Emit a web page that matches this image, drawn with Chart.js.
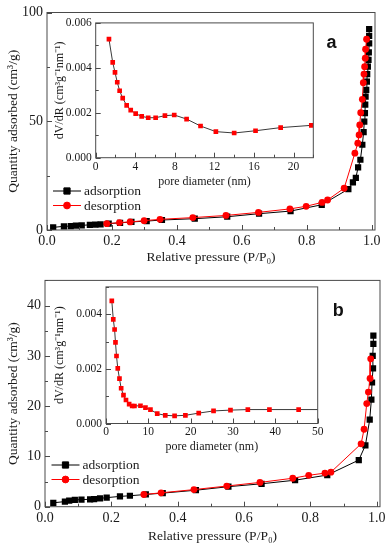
<!DOCTYPE html>
<html>
<head>
<meta charset="utf-8">
<script src="https://cdn.jsdelivr.net/npm/chart.js@4.4.0/dist/chart.umd.min.js"></script>
<style>
  body { margin: 0; background: #fff; width: 391px; height: 550px; position: relative; overflow: hidden; }
  canvas { position: absolute; }
</style>
</head>
<body>
<canvas id="mainA" width="391" height="268" style="left:0;top:0;width:391px;height:268px"></canvas>
<canvas id="mainB" width="391" height="282" style="left:0;top:268px;width:391px;height:282px"></canvas>
<canvas id="insetA" width="285" height="185" style="left:40px;top:12px;width:285px;height:185px"></canvas>
<canvas id="insetB" width="285" height="185" style="left:45px;top:276px;width:285px;height:185px"></canvas>
<script>
// panel a - isotherm
const adsA_p = [0.019,0.052,0.073,0.089,0.107,0.132,0.149,0.165,0.19,0.225,0.26,0.307,0.354,0.455,0.555,0.653,0.75,0.846,0.928,0.942,0.951,0.958,0.965,0.971,0.975,0.977,0.979,0.98,0.981,0.983,0.985,0.986,0.988,0.99,0.991,0.992,0.992,0.992];
const adsA_q = [1.2,1.7,1.8,2.0,2.1,2.4,2.5,2.6,2.9,3.3,3.7,4.1,4.6,5.2,6.1,7.5,8.7,11.6,18.8,21.9,24.0,28.8,32.3,39.2,45.0,49.8,53.7,57.6,61.3,64.4,68.2,71.7,75.1,78.2,81.7,85.8,89.2,92.4];
const desA_p = [0.984,0.981,0.98,0.978,0.976,0.974,0.971,0.966,0.963,0.961,0.957,0.948,0.915,0.864,0.847,0.798,0.748,0.651,0.551,0.449,0.348,0.299,0.256,0.223,0.184];
const desA_q = [87.7,83.1,79.0,75.1,71.7,67.7,60.1,53.9,48.3,43.7,39.9,35.3,19.2,13.8,12.7,10.9,9.7,8.1,6.7,5.7,4.9,4.3,3.7,3.4,2.9];
// panel a - pore size distribution
const poreA_d = [1.34,1.72,1.95,2.18,2.42,2.73,3.13,3.54,4.04,4.65,5.31,6.06,7.0,7.94,9.19,10.6,12.15,14.0,16.16,18.7,21.8];
const poreA_v = [0.00528,0.00424,0.0038,0.00336,0.00298,0.00265,0.00233,0.00212,0.00196,0.00184,0.00178,0.00178,0.00187,0.0019,0.00172,0.00141,0.00116,0.0011,0.0012,0.00134,0.00144];

// panel b - isotherm
const adsB_p = [0.025,0.06,0.073,0.09,0.11,0.136,0.148,0.166,0.186,0.226,0.256,0.304,0.355,0.455,0.553,0.653,0.754,0.851,0.946,0.966,0.979,0.984,0.986,0.989,0.988,0.99,0.99];
const adsB_q = [0.77,1.02,1.22,1.35,1.41,1.47,1.5,1.66,1.8,2.05,2.18,2.43,2.7,3.28,3.98,4.56,5.27,6.29,9.27,12.2,17.3,21.3,24.7,27.5,30.0,32.4,34.0];
const desB_p = [0.982,0.98,0.975,0.97,0.962,0.953,0.862,0.844,0.795,0.747,0.648,0.548,0.449,0.35,0.298];
const desB_q = [29.4,25.5,22.8,20.5,15.4,12.5,6.87,6.68,6.24,5.66,4.83,4.11,3.4,2.76,2.43];
// panel b - pore size distribution (last point only carries the line to the frame)
const poreB_d = [1.37,1.72,2.03,2.24,2.48,2.78,3.18,3.58,4.13,4.72,5.47,6.18,6.72,8.14,9.32,10.5,12.1,14.0,16.2,18.75,21.9,25.4,29.4,33.5,38.6,45.5,50.5];
const poreB_v = [0.00449,0.00381,0.00344,0.00297,0.00247,0.00202,0.00164,0.00129,0.00104,0.00086,0.00071,0.00064,0.00064,0.00065,0.00058,0.00051,0.00036,0.0003,0.00028,0.0003,0.00038,0.00046,0.00049,0.00051,0.00051,0.00051,0.00051];

const serif = "'Liberation Serif', 'Times New Roman', serif";
Chart.defaults.font.family = serif;
Chart.defaults.color = '#1a1a1a';

const pts = (xs, ys) => xs.map((x, i) => ({ x: x, y: ys[i] }));

// box around plot area + Origin-style inward ticks
const frame = {
  id: 'frame',
  afterDraw(chart, args, opts) {
    const { ctx, chartArea: a, scales } = chart;
    ctx.save();
    ctx.strokeStyle = '#4a4a4a';
    ctx.lineWidth = 1;
    ctx.strokeRect(a.left, a.top, a.right - a.left, a.bottom - a.top);
    const ticks = (scale, minor, horiz) => {
      const major = scale.ticks.map(t => t.value);
      const n = Math.round((scale.max - scale.min) / minor);
      for (let i = 0; i <= n; i++) {
        const v = scale.min + i * minor;
        const len = major.some(m => Math.abs(m - v) < minor / 10) ? 5 : 3;
        const p = Math.round(scale.getPixelForValue(v)) + 0.5;
        ctx.beginPath();
        if (horiz) { ctx.moveTo(p, a.bottom); ctx.lineTo(p, a.bottom - len); }
        else { ctx.moveTo(a.left, p); ctx.lineTo(a.left + len, p); }
        ctx.stroke();
      }
    };
    ticks(scales.x, opts.xMinor, true);
    ticks(scales.y, opts.yMinor, false);
    ctx.restore();
  }
};

// legend with line + marker, and the panel letter
const isoLegend = {
  id: 'isoLegend',
  afterDraw(chart, args, opts) {
    if (!opts.display) return;
    const { ctx, chartArea: a } = chart;
    ctx.save();
    chart.data.datasets.forEach((ds, i) => {
      const y = a.bottom - opts.bottom + i * 14.5;
      const x0 = a.left + opts.left;
      ctx.strokeStyle = ds.borderColor;
      ctx.fillStyle = ds.backgroundColor;
      ctx.lineWidth = 1;
      ctx.beginPath();
      ctx.moveTo(x0, y);
      ctx.lineTo(x0 + 28, y);
      ctx.stroke();
      Chart.helpers.drawPoint(ctx, { pointStyle: ds.pointStyle, radius: ds.pointRadius, rotation: 0, borderWidth: 1 }, x0 + 14, y);
      ctx.fillStyle = '#1a1a1a';
      ctx.font = '13.5px ' + serif;
      ctx.textBaseline = 'middle';
      ctx.fillText(ds.label, x0 + 31, y + 0.5);
    });
    ctx.font = 'bold 18px "Liberation Sans", Arial, sans-serif';
    ctx.textAlign = 'center';
    ctx.textBaseline = 'middle';
    ctx.fillStyle = '#111';
    ctx.fillText(opts.letter, a.right - opts.letterDx, a.top + opts.letterDy);
    ctx.restore();
  }
};

function isoChart(id, ads, des, cfg) {
  return new Chart(document.getElementById(id), {
    type: 'scatter',
    data: {
      datasets: [
        { label: 'adsorption', data: ads, showLine: true, borderColor: '#000', backgroundColor: '#000',
          borderWidth: 1, pointStyle: 'rect', pointRadius: 4.4, pointBorderWidth: 0, order: 1 },
        { label: 'desorption', data: des, showLine: true, borderColor: '#ff0000', backgroundColor: '#ff0000',
          borderWidth: 1, pointStyle: 'circle', pointRadius: 3.4, pointBorderWidth: 0, order: 0 }
      ]
    },
    options: {
      responsive: false, animation: false, events: [],
      layout: { padding: cfg.padding },
      plugins: {
        legend: { display: false }, tooltip: { enabled: false },
        frame: { xMinor: 0.1, yMinor: cfg.yMinor },
        isoLegend: { display: true, left: cfg.legLeft, bottom: cfg.legBottom, letter: cfg.letter, letterDx: cfg.letterDx, letterDy: 30.5 }
      },
      scales: {
        x: {
          type: 'linear', min: 0, max: 1.01,
          afterFit: s => { s.height = cfg.xHeight; },
          grid: { display: false, drawTicks: false }, border: { display: false },
          ticks: { stepSize: 0.2, includeBounds: false, padding: 3, maxRotation: 0, font: { size: 14 }, callback: v => v.toFixed(1) },
          title: { display: true, text: 'Relative pressure (P/P₀)', font: { size: 13.5 }, padding: { top: 0, bottom: cfg.xTitlePad } }
        },
        y: {
          type: 'linear', min: 0, max: cfg.yMax,
          afterFit: s => { s.width = cfg.yWidth; },
          grid: { display: false, drawTicks: false }, border: { display: false },
          ticks: { stepSize: cfg.yStep, includeBounds: false, padding: 4, font: { size: 14 } },
          title: { display: true, text: 'Quantity adsorbed (cm³/g)', font: { size: 13.5 }, padding: { top: 5.5, bottom: 0 } }
        }
      }
    },
    plugins: [frame, isoLegend]
  });
}

function poreChart(id, data, cfg) {
  return new Chart(document.getElementById(id), {
    type: 'scatter',
    data: {
      datasets: [{
        label: 'PSD', data: data, showLine: true, borderColor: '#3a3a3a', borderWidth: 1,
        pointStyle: 'rect', pointBackgroundColor: '#ff0000', pointBorderColor: '#ff0000', pointBorderWidth: 0,
        pointRadius: ctx => (ctx.raw && ctx.raw.x > cfg.xMax ? 0 : 3.3)
      }]
    },
    options: {
      responsive: false, animation: false, events: [],
      layout: { padding: cfg.padding },
      plugins: {
        legend: { display: false }, tooltip: { enabled: false },
        frame: { xMinor: cfg.xMinor, yMinor: 0.001 },
        isoLegend: { display: false }
      },
      scales: {
        x: {
          type: 'linear', min: 0, max: cfg.xMax,
          afterFit: s => { s.height = cfg.xHeight; },
          grid: { display: false, drawTicks: false }, border: { display: false },
          ticks: { stepSize: cfg.xStep, includeBounds: false, padding: 2, maxRotation: 0, font: { size: 11.5 } },
          title: { display: true, text: 'pore diameter (nm)', font: { size: 12 }, padding: { top: 0, bottom: cfg.xTitlePad } }
        },
        y: {
          type: 'linear', min: 0, max: cfg.yMax,
          afterFit: s => { s.width = cfg.yWidth; },
          grid: { display: false, drawTicks: false }, border: { display: false },
          ticks: { stepSize: 0.002, includeBounds: false, padding: 4, font: { size: 11.5 }, callback: v => v.toFixed(3) },
          title: { display: true, text: 'dV/dR (cm³g⁻¹nm⁻¹)', font: { size: 12 }, padding: { top: cfg.yTitlePad, bottom: 0 } }
        }
      }
    },
    plugins: [frame]
  });
}

isoChart('mainA', pts(adsA_p, adsA_q), pts(desA_p, desA_q), {
  padding: { top: 12.5, right: 16, left: 0, bottom: 0 },
  xHeight: 38, yWidth: 47, yMax: 100, yStep: 50, yMinor: 25, xTitlePad: 2,
  legLeft: 6, legBottom: 39, letter: 'a', letterDx: 43.5
});
isoChart('mainB', pts(adsB_p, adsB_q), pts(desB_p, desB_q), {
  padding: { top: 5.3, right: 11, left: 0, bottom: 0 },
  xHeight: 43.3, yWidth: 45, yMax: 45, yStep: 10, yMinor: 5, xTitlePad: 5.5,
  legLeft: 6.5, legBottom: 41.7, letter: 'b', letterDx: 41.7
});
poreChart('insetA', pts(poreA_d, poreA_v), {
  padding: { top: 10.7, right: 11.7, left: 0, bottom: 0 },
  xHeight: 39.3, yWidth: 55.7, xMax: 22, xStep: 4, xMinor: 2, yMax: 0.006, yTitlePad: 12.8, xTitlePad: 8.2
});
poreChart('insetB', pts(poreB_d, poreB_v), {
  padding: { top: 8, right: 12.3, left: 0, bottom: 0 },
  xHeight: 37.5, yWidth: 61, xMax: 50, xStep: 10, xMinor: 5, yMax: 0.005, yTitlePad: 7.8, xTitlePad: 7.2
});
</script>
</body>
</html>
